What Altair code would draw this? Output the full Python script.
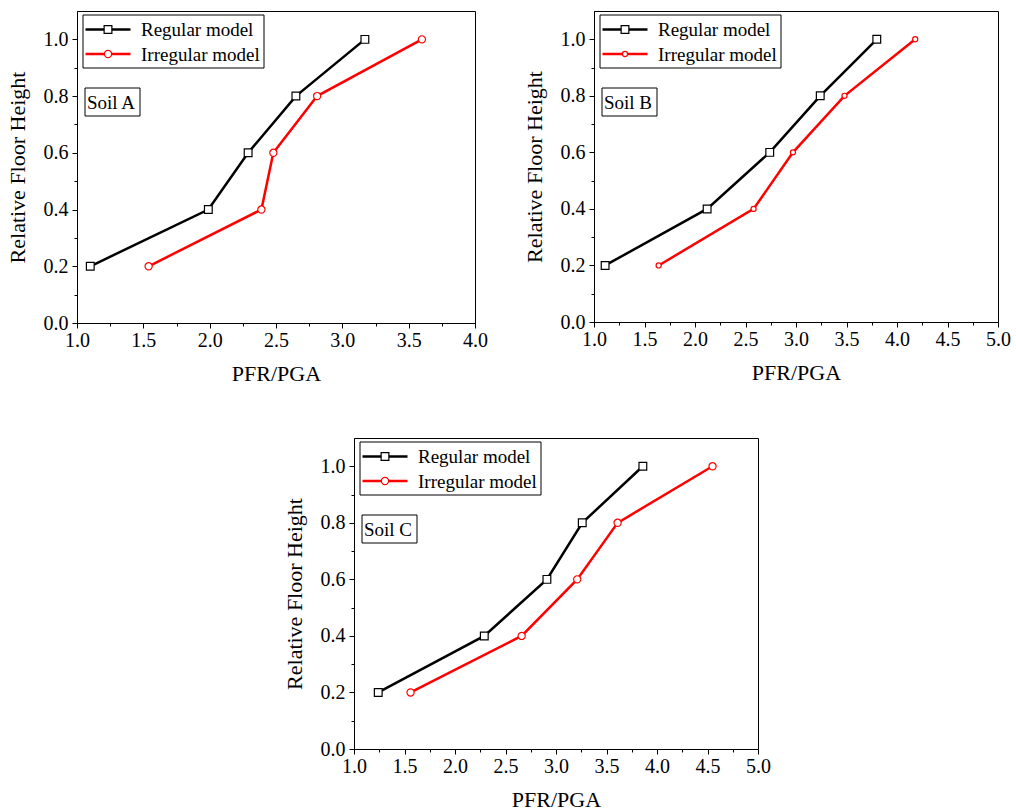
import altair as alt
import pandas as pd

SERIF = "Liberation Serif"

# ---- data ----
floors = [0.2, 0.4, 0.6, 0.8, 1.0]
series_names = ["Regular model", "Irregular model"]
series_colors = ["#000000", "#ff0000"]
series_shapes = ["square", "circle"]

soilA_regular = [1.10, 1.99, 2.29, 2.65, 3.17]
soilA_irregular = [1.54, 2.39, 2.48, 2.81, 3.60]
soilB_regular = [1.11, 2.12, 2.74, 3.24, 3.80]
soilB_irregular = [1.64, 2.58, 2.97, 3.48, 4.18]
soilC_regular = [1.24, 2.29, 2.91, 3.26, 3.86]
soilC_irregular = [1.56, 2.66, 3.21, 3.61, 4.55]

panel_labels = ["Soil A", "Soil B", "Soil C"]
x_max = [4.0, 5.0, 5.0]
marker_sizes = [[60, 52], [60, 26], [60, 52]]
y_ticks = [0.0, 0.1, 0.2, 0.3, 0.4, 0.5, 0.6, 0.7, 0.8, 0.9, 1.0]
x_ticks_4 = [1.0, 1.25, 1.5, 1.75, 2.0, 2.25, 2.5, 2.75, 3.0, 3.25, 3.5, 3.75, 4.0]
x_ticks_5 = x_ticks_4 + [4.25, 4.5, 4.75, 5.0]

# in-plot legend layout (pixels from the plot's top-left corner)
LEG_BOX = (6, 187, 4, 57)
LEG_ROWS = [18.5, 43.0]
LEG_LINE = (8.5, 53.5)
LEG_MARK_X = 31
LEG_TEXT_X = 64


def make_panel(label, regular, irregular, xmax, msizes, width, height):
    df = pd.DataFrame({
        "x": regular + irregular,
        "floor": floors + floors,
        "series": [series_names[0]] * len(regular) + [series_names[1]] * len(irregular),
    })
    xt = x_ticks_4 if xmax == 4.0 else x_ticks_5
    x_enc = alt.X(
        "x:Q", title="PFR/PGA",
        scale=alt.Scale(domain=[1.0, xmax], nice=False),
        axis=alt.Axis(
            values=xt, grid=False, labelFlush=False,
            labelExpr="abs(datum.value*2 - round(datum.value*2)) < 0.001 ? format(datum.value, '.1f') : ''",
            tickSize={"condition": {"test": "abs(datum.value*2 - round(datum.value*2)) < 0.001", "value": 5}, "value": 3},
            labelPadding=2, titlePadding=13,
        ),
    )
    y_enc = alt.Y(
        "floor:Q", title="Relative Floor Height",
        scale=alt.Scale(domain=[0.0, 1.1], nice=False),
        axis=alt.Axis(
            values=y_ticks, grid=False,
            labelExpr="abs(datum.value*5 - round(datum.value*5)) < 0.001 ? format(datum.value, '.1f') : ''",
            tickSize={"condition": {"test": "abs(datum.value*5 - round(datum.value*5)) < 0.001", "value": 5}, "value": 3},
            labelPadding=4, titlePadding=14,
        ),
    )
    cscale = alt.Scale(domain=series_names, range=series_colors)
    shscale = alt.Scale(domain=series_names, range=series_shapes)
    szscale = alt.Scale(domain=series_names, range=msizes)
    color = alt.Color("series:N", scale=cscale, legend=None)
    shape = alt.Shape("series:N", scale=shscale, legend=None)
    size = alt.Size("series:N", scale=szscale, legend=None)

    base = alt.Chart(df).encode(x=x_enc, y=y_enc, color=color, order=alt.Order("floor:Q"))
    lines = base.mark_line(strokeWidth=2.5)
    points = base.mark_point(fill="white", opacity=1, strokeWidth=1.2).encode(shape=shape, size=size)

    layers = [lines, points]

    # legend box with one row per series
    leg_df = pd.DataFrame({"series": series_names})
    layers.append(alt.Chart(leg_df.head(1)).mark_rect(fill="white", stroke="black", strokeWidth=1).encode(
        x=alt.value(LEG_BOX[0]), x2=alt.value(LEG_BOX[1]), y=alt.value(LEG_BOX[2]), y2=alt.value(LEG_BOX[3])))
    for i, name in enumerate(series_names):
        row = alt.Chart(pd.DataFrame({"series": [name]}))
        ry = LEG_ROWS[i]
        layers.append(row.mark_rule(strokeWidth=2.5).encode(
            x=alt.value(LEG_LINE[0]), x2=alt.value(LEG_LINE[1]), y=alt.value(ry), color=color))
        layers.append(row.mark_point(fill="white", opacity=1, strokeWidth=1.2).encode(
            x=alt.value(LEG_MARK_X), y=alt.value(ry), color=color, shape=shape, size=size))
        layers.append(row.mark_text(font=SERIF, fontSize=19, align="left", baseline="middle", color="black").encode(
            x=alt.value(LEG_TEXT_X), y=alt.value(ry + 0.5), text="series:N"))

    # "Soil X" label box
    lab_df = pd.DataFrame({"label": [label]})
    layers.append(alt.Chart(lab_df).mark_rect(fill="white", stroke="black", strokeWidth=1).encode(
        x=alt.value(8), x2=alt.value(63), y=alt.value(77), y2=alt.value(105)))
    layers.append(alt.Chart(lab_df).mark_text(font=SERIF, fontSize=19, align="left", baseline="middle", color="black").encode(
        x=alt.value(10), y=alt.value(91.5), text="label:N"))

    return alt.layer(*layers).properties(width=width, height=height)


pA = make_panel(panel_labels[0], soilA_regular, soilA_irregular, x_max[0], marker_sizes[0], 398, 312)
pB = make_panel(panel_labels[1], soilB_regular, soilB_irregular, x_max[1], marker_sizes[1], 404, 311)
pC = make_panel(panel_labels[2], soilC_regular, soilC_irregular, x_max[2], marker_sizes[2], 404, 311)

spacer = alt.Chart(pd.DataFrame({"a": [0]})).mark_point(opacity=0).properties(
    width=277, height=10, view=alt.ViewBackground(stroke="transparent"))

RES = dict(color="independent", shape="independent", size="independent")

top = alt.hconcat(pA, pB, spacing=119, bounds="flush").resolve_scale(**RES)
bottom = alt.hconcat(spacer, pC, spacing=0, bounds="flush").resolve_scale(**RES)

chart = alt.vconcat(top, bottom, spacing=427, bounds="flush").resolve_scale(**RES).properties(
    padding={"left": 5, "top": 10, "right": 5, "bottom": 5},
    background="white",
).configure_view(stroke="black", strokeWidth=1).configure_axis(
    labelFont=SERIF, labelFontSize=20, labelColor="black",
    titleFont=SERIF, titleFontSize=22, titleFontWeight="normal", titleColor="black",
    domainColor="black", domainWidth=1, tickColor="black", tickWidth=1,
)

chart.save("out.html", embed_options={"renderer": "svg", "actions": False})
